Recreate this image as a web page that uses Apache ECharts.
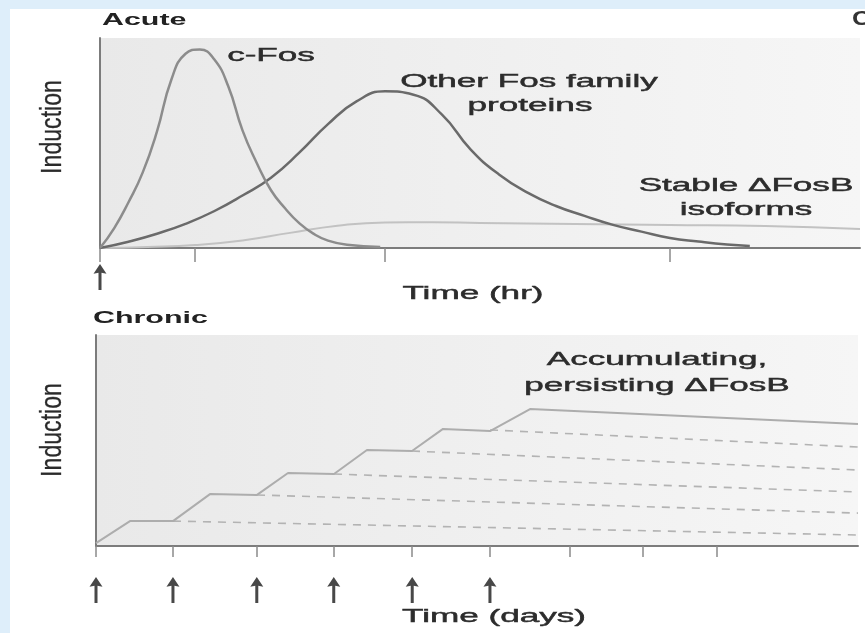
<!DOCTYPE html>
<html>
<head>
<meta charset="utf-8">
<script src="https://cdn.jsdelivr.net/npm/echarts@6/dist/echarts.min.js"></script>
<style>
  html, body { margin: 0; padding: 0; background: #deeefa; }
  #paper { position: absolute; left: 10px; top: 9px; width: 855px; height: 624px; background: #ffffff; }
  #chart { position: absolute; left: 0; top: 0; width: 865px; height: 633px; }
</style>
</head>
<body>
<div id="paper"></div>
<div id="chart"></div>
<script>
// ---------- Acute panel (time in hr, arbitrary induction units) ----------
const hourTicks = [0, 1, 3, 6];
const cFos = [[0,0],[0.15,0.095],[0.3,0.218],[0.45,0.36],[0.6,0.555],[0.75,0.8],[0.9,0.925],[1.05,0.945],[1.2,0.9],[1.35,0.77],[1.5,0.56],[1.65,0.405],[1.8,0.275],[1.95,0.188],[2.1,0.117],[2.25,0.067],[2.4,0.035],[2.6,0.015],[2.95,0.005]];
const otherFos = [[0,0],[0.3,0.03],[0.6,0.068],[0.9,0.115],[1.2,0.175],[1.5,0.25],[1.8,0.335],[2.1,0.455],[2.4,0.59],[2.7,0.698],[3.0,0.746],[3.3,0.73],[3.6,0.635],[3.9,0.47],[4.2,0.35],[4.5,0.264],[4.8,0.2],[5.1,0.153],[5.4,0.11],[5.7,0.078],[6.0,0.048],[6.3,0.031],[6.6,0.017],[6.84,0.01]];
const stableFosB = [[0,0],[0.5,0.005],[1.0,0.014],[1.5,0.036],[2.0,0.072],[2.5,0.106],[3.0,0.122],[3.5,0.123],[4.0,0.119],[5.0,0.114],[6.0,0.11],[7.0,0.105],[8.0,0.09]];
const acuteDoses = [0];

// ---------- Chronic panel (time in days) ----------
const dayTicks = [0, 1.01, 2.11, 3.12, 4.15, 5.17, 6.22, 7.18, 8.14];
const chronicDoses = [0, 1.01, 2.11, 3.12, 4.15, 5.17];
const accumulating = [[0,0.014],[0.446,0.118],[1.01,0.118],[1.496,0.246],[2.113,0.242],[2.52,0.346],[3.123,0.341],[3.556,0.455],[4.147,0.45],[4.554,0.555],[5.171,0.545],[5.696,0.649],[10,0.578]];
const decay1 = [[1.01,0.118],[10,0.052]];
const decay2 = [[2.113,0.242],[10,0.156]];
const decay3 = [[3.123,0.341],[10,0.256]];
const decay4 = [[4.147,0.45],[10,0.36]];
const decay5 = [[5.171,0.55],[10,0.469]];

const chart = echarts.init(document.getElementById('chart'), null, {renderer: 'canvas'});
const FONT = "'Liberation Sans', Arial, Helvetica, sans-serif";
const arrowPath = 'path://M6.5,0 L13,10 L8,9 L8,27 L5,27 L5,9 L0,10 Z';
function bg() {
  return new echarts.graphic.LinearGradient(0, 0, 1, 0, [
    {offset: 0, color: '#e9e9e9'}, {offset: 1, color: '#f6f6f6'}
  ]);
}

function xAx(idx, max, ticks, tickLen) {
  return {
    type: 'value', gridIndex: idx, min: 0, max: max,
    axisLine: {show: true, onZero: false, lineStyle: {color: '#7c7c7c', width: 2}},
    axisTick: {show: true, customValues: ticks, length: tickLen, lineStyle: {color: '#8a8a8a', width: 1.5}},
    axisLabel: {show: false}, splitLine: {show: false}
  };
}
function yAx(idx) {
  return {
    type: 'value', gridIndex: idx, min: 0, max: 1,
    axisLine: {show: true, onZero: false, lineStyle: {color: '#7c7c7c', width: 2}},
    axisTick: {show: false}, axisLabel: {show: false}, splitLine: {show: false}
  };
}
function label(text, x, y, opts) {
  opts = opts || {};
  const color = opts.color || '#2c2c2c';
  return {
    type: 'text', x: x, y: y, rotation: opts.rotation || 0,
    scaleX: opts.scaleX || 1.95, scaleY: opts.scaleY || 1, z: 100,
    style: {
      text: text, x: 0, y: 0,
      font: (opts.weight || 'normal') + ' ' + (opts.size || 18) + 'px ' + FONT,
      fill: color, stroke: color, lineWidth: opts.stroke === undefined ? 0.45 : opts.stroke,
      textAlign: opts.align || 'center', textVerticalAlign: 'middle'
    }
  };
}
function line(data, xi, color, width, type) {
  return {
    type: 'line', xAxisIndex: xi, yAxisIndex: xi, data: data,
    showSymbol: false, silent: true,
    smooth: type === 'smooth' ? 0.5 : false,
    lineStyle: {color: color, width: width, type: type === 'dashed' ? [8, 7] : 'solid'}
  };
}
function arrows(data, xi, offset) {
  return {
    type: 'scatter', xAxisIndex: xi, yAxisIndex: xi, clip: false, silent: true,
    data: data.map(d => [d, 0]), symbol: arrowPath, symbolSize: [13, 26],
    symbolOffset: [0, offset], itemStyle: {color: '#1a1a1a'}
  };
}

chart.setOption({
  animation: false,
  grid: [
    {left: 100, top: 38, width: 760, height: 210, show: true, backgroundColor: bg(), borderWidth: 0},
    {left: 96, top: 335, width: 762, height: 211, show: true, backgroundColor: bg(), borderWidth: 0}
  ],
  xAxis: [xAx(0, 8, hourTicks, 14), xAx(1, 10, dayTicks, 11)],
  yAxis: [yAx(0), yAx(1)],
  series: [
    line(stableFosB, 0, '#c2c2c2', 2, 'smooth'),
    line(otherFos, 0, '#6a6a6a', 2.5, 'smooth'),
    line(cFos, 0, '#8c8c8c', 2.5, 'smooth'),
    arrows(acuteDoses, 0, 29),
    line(decay1, 1, '#b3b3b3', 1.6, 'dashed'),
    line(decay2, 1, '#b3b3b3', 1.6, 'dashed'),
    line(decay3, 1, '#b3b3b3', 1.6, 'dashed'),
    line(decay4, 1, '#b3b3b3', 1.6, 'dashed'),
    line(decay5, 1, '#b3b3b3', 1.6, 'dashed'),
    line(accumulating, 1, '#adadad', 2, 'solid'),
    arrows(chronicDoses, 1, 44)
  ],
  graphic: [
    label('Acute', 102, 21, {weight: 'bold', size: 16, scaleX: 1.9, align: 'left', color: '#222', stroke: 0}),
    label('Chronic', 93, 319, {weight: 'bold', size: 16, scaleX: 1.9, align: 'left', color: '#222', stroke: 0}),
    label('Induction', 53, 127, {size: 30, rotation: Math.PI / 2, scaleX: 0.77, color: '#2a2a2a', stroke: 0.3}),
    label('Induction', 53, 430, {size: 30, rotation: Math.PI / 2, scaleX: 0.77, color: '#2a2a2a', stroke: 0.3}),
    label('c-Fos', 271, 56),
    label('Other Fos family', 529, 82),
    label('proteins', 530, 106),
    label('Stable \u0394FosB', 746, 186),
    label('isoforms', 746, 210),
    label('Time (hr)', 473, 294),
    label('Accumulating,', 657, 360),
    label('persisting \u0394FosB', 657, 386),
    label('Time (days)', 494, 617),
    label('C', 852, 19, {weight: 'bold', size: 20, scaleX: 1.3, align: 'left', color: '#333', stroke: 0})
  ]
});
</script>
</body>
</html>
